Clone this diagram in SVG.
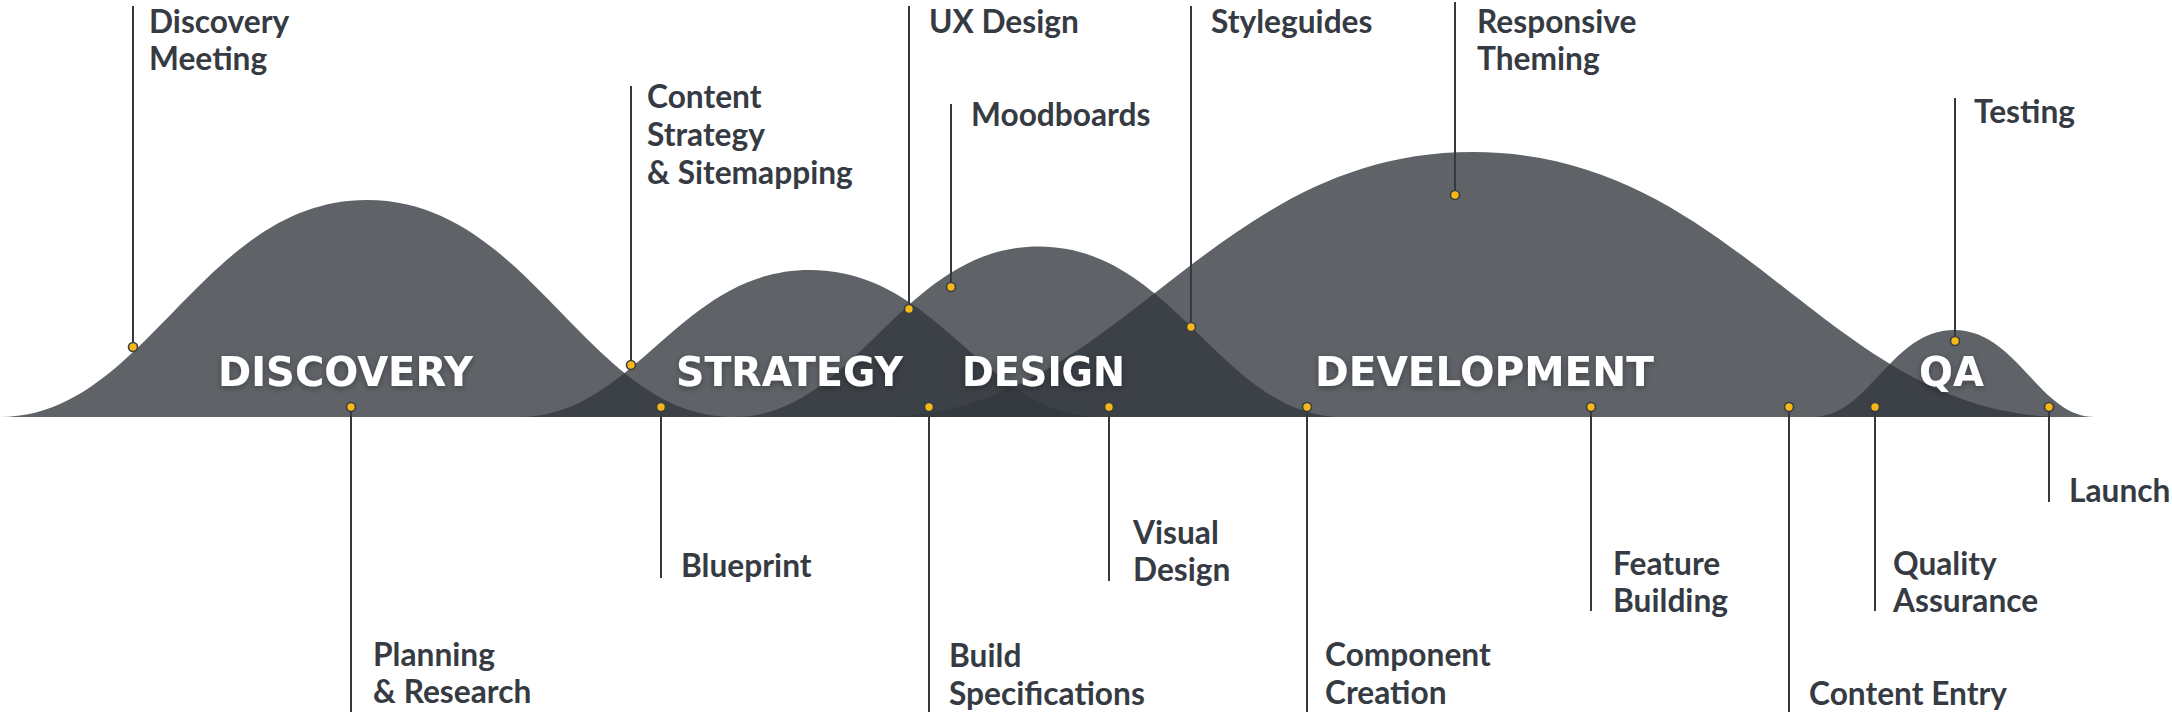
<svg xmlns="http://www.w3.org/2000/svg" width="2172" height="712" viewBox="0 0 2172 712">
<defs>
<filter id="sh" x="-10%" y="-30%" width="120%" height="170%">
<feDropShadow dx="0" dy="2" stdDeviation="3" flood-color="#000" flood-opacity="0.35"/>
</filter>
</defs>
<style>
.hill{fill:#33383e;fill-opacity:0.786}
.phase{font-family:"DejaVu Sans","Liberation Sans",sans-serif;font-weight:700;font-size:41px;fill:#ffffff;filter:url(#sh)}
.lbl{font-family:Lato,"Liberation Sans",sans-serif;font-weight:700;font-size:31.7px;fill:#363b43}
.ln{stroke:#36393f;stroke-width:2;fill:none}
.dot{fill:#f7b718;stroke:#3a3d42;stroke-width:1.6}
</style>
<rect width="2172" height="712" fill="#ffffff"/>
<g id="hills">
<path class="hill" d="M0,417 C146.8,417 201.9,200 367,200 C532.1,200 587.2,417 734,417 Z"/>
<path class="hill" d="M519,417 C635.4,417 679.1,270 810,270 C940.9,270 984.6,417 1101,417 Z"/>
<path class="hill" d="M734,417 C855.8,417 901.5,246.5 1038.5,246.5 C1175.5,246.5 1221.2,417 1343,417 Z"/>
<path class="hill" d="M881,417 C1117.8,417 1206.6,152 1473,152 C1739.4,152 1828.2,417 2065,417 Z"/>
<path class="hill" d="M1813,417 C1869.4,417 1890.6,330 1954,330 C2017.5,330 2038.6,417 2095,417 Z"/>
</g>
<g id="phases">
<text class="phase" x="218" y="386" textLength="255" lengthAdjust="spacingAndGlyphs">DISCOVERY</text>
<text class="phase" x="676" y="386" textLength="227" lengthAdjust="spacingAndGlyphs">STRATEGY</text>
<text class="phase" x="962" y="386" textLength="163" lengthAdjust="spacingAndGlyphs">DESIGN</text>
<text class="phase" x="1315" y="386" textLength="339" lengthAdjust="spacingAndGlyphs">DEVELOPMENT</text>
<text class="phase" x="1919" y="386" textLength="65" lengthAdjust="spacingAndGlyphs">QA</text>
</g>
<g id="connectors">
<line class="ln" x1="133" y1="6" x2="133" y2="347"/>
<line class="ln" x1="631" y1="86" x2="631" y2="365"/>
<line class="ln" x1="909" y1="6" x2="909" y2="309"/>
<line class="ln" x1="951" y1="104" x2="951" y2="287"/>
<line class="ln" x1="1191" y1="6" x2="1191" y2="327"/>
<line class="ln" x1="1455" y1="2" x2="1455" y2="195"/>
<line class="ln" x1="1955" y1="98" x2="1955" y2="341"/>
<line class="ln" x1="351" y1="407" x2="351" y2="712"/>
<line class="ln" x1="661" y1="407" x2="661" y2="578"/>
<line class="ln" x1="929" y1="407" x2="929" y2="712"/>
<line class="ln" x1="1109" y1="407" x2="1109" y2="581"/>
<line class="ln" x1="1307" y1="407" x2="1307" y2="712"/>
<line class="ln" x1="1591" y1="407" x2="1591" y2="611"/>
<line class="ln" x1="1789" y1="407" x2="1789" y2="712"/>
<line class="ln" x1="1875" y1="407" x2="1875" y2="611"/>
<line class="ln" x1="2049" y1="407" x2="2049" y2="502"/>
</g>
<g id="node-discovery-meeting"><circle class="dot" cx="133" cy="347" r="4.5"/><text class="lbl" x="149" y="33">Discovery</text><text class="lbl" x="149" y="70">Meeting</text></g>
<g id="node-content-strategy"><circle class="dot" cx="631" cy="365" r="4.5"/><text class="lbl" x="647" y="108">Content</text><text class="lbl" x="647" y="146">Strategy</text><text class="lbl" x="647" y="184">&amp; Sitemapping</text></g>
<g id="node-ux-design"><circle class="dot" cx="909" cy="309" r="4.5"/><text class="lbl" x="929" y="33">UX Design</text></g>
<g id="node-moodboards"><circle class="dot" cx="951" cy="287" r="4.5"/><text class="lbl" x="971" y="126">Moodboards</text></g>
<g id="node-styleguides"><circle class="dot" cx="1191" cy="327" r="4.5"/><text class="lbl" x="1211" y="33">Styleguides</text></g>
<g id="node-responsive-theming"><circle class="dot" cx="1455" cy="195" r="4.5"/><text class="lbl" x="1477" y="33">Responsive</text><text class="lbl" x="1477" y="70">Theming</text></g>
<g id="node-testing"><circle class="dot" cx="1955" cy="341" r="4.5"/><text class="lbl" x="1974" y="123">Testing</text></g>
<g id="node-planning-research"><circle class="dot" cx="351" cy="407" r="4.5"/><text class="lbl" x="373" y="666">Planning</text><text class="lbl" x="373" y="703">&amp; Research</text></g>
<g id="node-blueprint"><circle class="dot" cx="661" cy="407" r="4.5"/><text class="lbl" x="681" y="577">Blueprint</text></g>
<g id="node-build-specifications"><circle class="dot" cx="929" cy="407" r="4.5"/><text class="lbl" x="949" y="667">Build</text><text class="lbl" x="949" y="705">Specifications</text></g>
<g id="node-visual-design"><circle class="dot" cx="1109" cy="407" r="4.5"/><text class="lbl" x="1133" y="544">Visual</text><text class="lbl" x="1133" y="581">Design</text></g>
<g id="node-component-creation"><circle class="dot" cx="1307" cy="407" r="4.5"/><text class="lbl" x="1325" y="666">Component</text><text class="lbl" x="1325" y="704">Creation</text></g>
<g id="node-feature-building"><circle class="dot" cx="1591" cy="407" r="4.5"/><text class="lbl" x="1613" y="575">Feature</text><text class="lbl" x="1613" y="612">Building</text></g>
<g id="node-content-entry"><circle class="dot" cx="1789" cy="407" r="4.5"/><text class="lbl" x="1809" y="705">Content Entry</text></g>
<g id="node-quality-assurance"><circle class="dot" cx="1875" cy="407" r="4.5"/><text class="lbl" x="1893" y="575">Quality</text><text class="lbl" x="1893" y="612">Assurance</text></g>
<g id="node-launch"><circle class="dot" cx="2049" cy="407" r="4.5"/><text class="lbl" x="2069" y="502">Launch</text></g>
</svg>
